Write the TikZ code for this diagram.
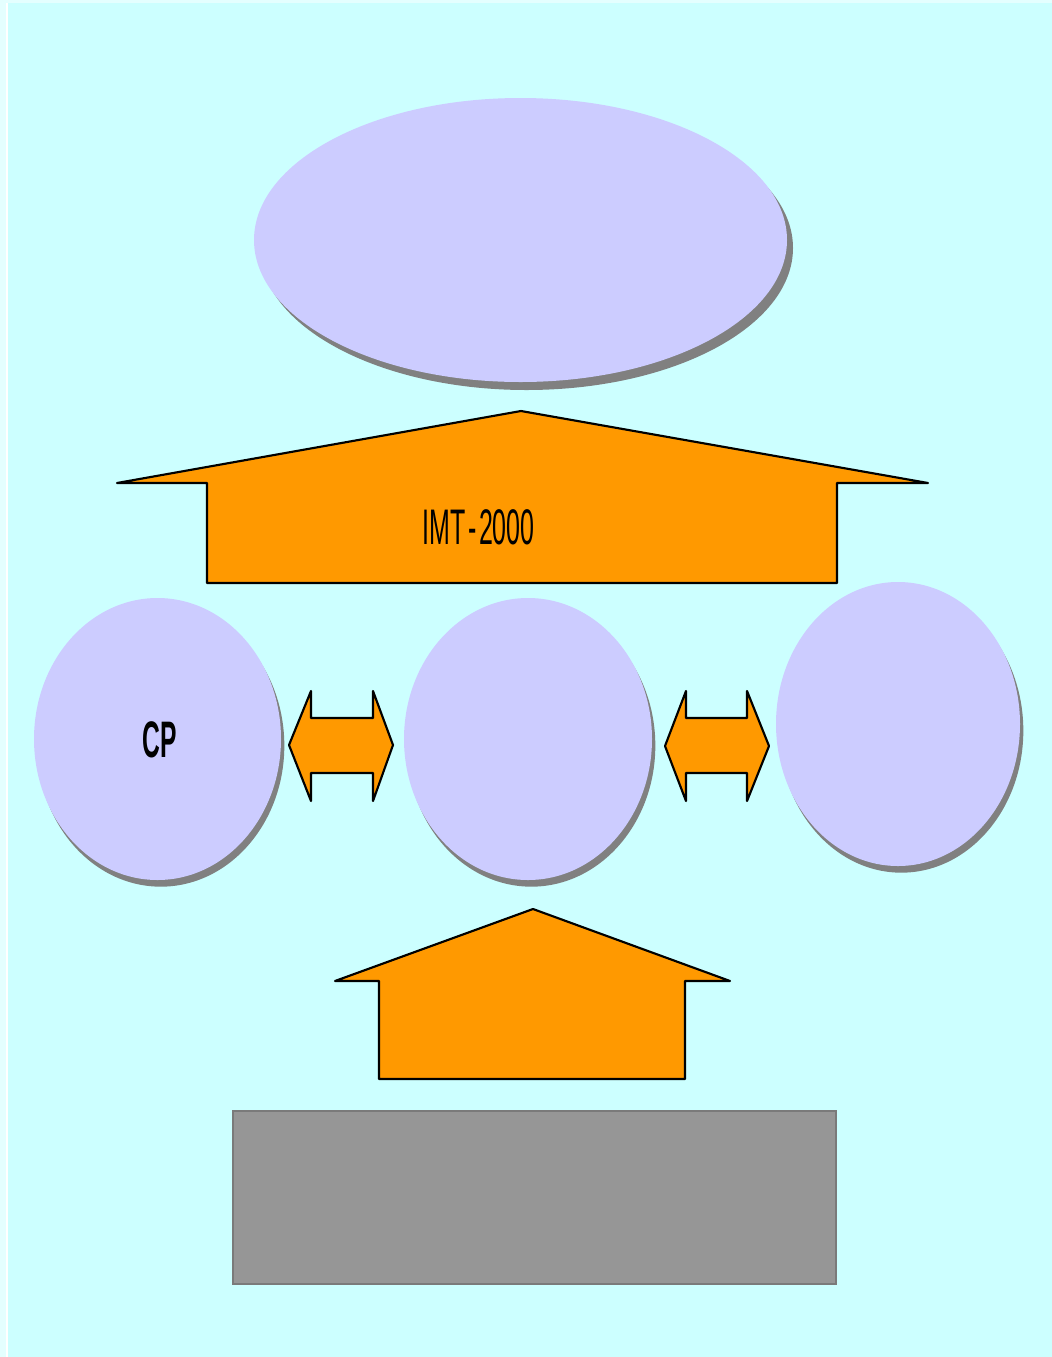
\documentclass[tikz,border=0pt]{standalone}
\usepackage{fontspec}
\usepackage{graphicx}
\setmainfont{Liberation Sans}
\usetikzlibrary{shapes.geometric,shadows}
\definecolor{bgc}{HTML}{CCFFFF}
\definecolor{palec}{HTML}{E4FFFF}
\definecolor{lav}{HTML}{CCCCFF}
\definecolor{orng}{HTML}{FF9900}
\definecolor{shgray}{HTML}{808080}
\definecolor{boxgray}{HTML}{969696}
\definecolor{boxedge}{HTML}{7A7A7A}
\begin{document}
\begin{tikzpicture}[x=0.75pt,y=-0.75pt,
  blob/.style={ellipse, fill=lav, draw=none, inner sep=0pt,
    drop shadow={shadow xshift=2.5pt, shadow yshift=-5pt, fill=shgray, opacity=1}},
  bigblob/.style={ellipse, fill=lav, draw=none, inner sep=0pt,
    drop shadow={shadow xshift=4.5pt, shadow yshift=-6pt, fill=shgray, opacity=1}},
  orangeshape/.style={fill=orng, draw=black, line width=1.6pt, line join=round},
  lbl/.style={inner sep=0pt, font=\fontsize{37.5pt}{40pt}\selectfont}
]
\useasboundingbox (0,0) rectangle (1052,1357);
% background
\fill[bgc] (0,0) rectangle (1052,1357);
\fill[palec] (0,0) rectangle (6,1357);
\fill[palec] (0,0) rectangle (1052,3);
\draw[white, line width=1.5pt] (7,3) -- (7,1357);

% top ellipse
\node[bigblob, minimum width=399.75pt, minimum height=213pt] (top) at (520.5,240) {};

% big up arrow
\draw[orangeshape] (521,411) -- (928,483) -- (837,483) -- (837,583) -- (207,583) -- (207,483) -- (117,483) -- cycle;
\node[lbl] (imt) at (478.5,527.5) {\scalebox{0.5}[1]{\spaceskip=4pt IMT - 2000}};

% three circles
\node[blob, minimum width=185.25pt, minimum height=211.5pt] (left) at (157.5,739) {};
\node[lbl, font=\fontsize{38.5pt}{40pt}\selectfont\bfseries] (cp) at (160,740) {\scalebox{0.48}[1]{CP}};
\node[blob, minimum width=186pt, minimum height=211.5pt] (mid) at (528,739) {};
\node[blob, minimum width=183pt, minimum height=213pt] (right) at (898,724) {};

% double arrows
\draw[orangeshape] (289,745) -- (311,691) -- (311,718) -- (373,718) -- (373,691) -- (393,745) -- (373,801) -- (373,773) -- (311,773) -- (311,801) -- cycle;
\draw[orangeshape] (665,746) -- (686,691) -- (686,718) -- (747,718) -- (747,691) -- (769,746) -- (747,801) -- (747,773) -- (686,773) -- (686,801) -- cycle;

% lower up arrow
\draw[orangeshape] (533,909) -- (730,981) -- (685,981) -- (685,1079) -- (379,1079) -- (379,981) -- (335,981) -- cycle;

% gray box
\node[fill=boxgray, draw=boxedge, line width=1.5pt, inner sep=0pt, minimum width=452.25pt, minimum height=129.75pt] (box) at (534.5,1197.5) {};
\end{tikzpicture}
\end{document}
